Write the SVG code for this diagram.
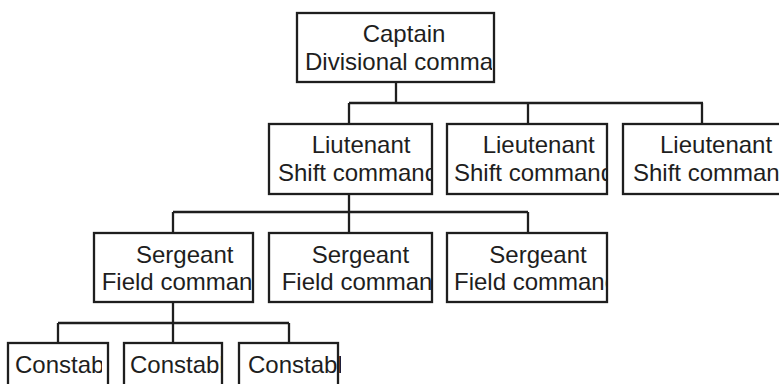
<svg xmlns="http://www.w3.org/2000/svg" width="779" height="384" viewBox="0 0 779 384">
<style>
.box{fill:#fff;stroke:#1e1e1e;stroke-width:2.3}
.t{font-family:"Liberation Sans",Arial,sans-serif;font-size:24px;fill:#1e1e1e}
.c{fill:none;stroke:#1e1e1e;stroke-width:2.3}
</style>
<defs>
<clipPath id="k0"><rect x="298" y="14" width="194" height="67"/></clipPath>
<clipPath id="k1"><rect x="270" y="125" width="161" height="68"/></clipPath>
<clipPath id="k2"><rect x="448" y="125" width="158" height="68"/></clipPath>
<clipPath id="k3"><rect x="624" y="125" width="155" height="68"/></clipPath>
<clipPath id="k4"><rect x="95" y="234" width="157" height="67"/></clipPath>
<clipPath id="k5"><rect x="270" y="234" width="161" height="67"/></clipPath>
<clipPath id="k6"><rect x="448" y="234" width="158" height="67"/></clipPath>
<clipPath id="k7"><rect x="9" y="344" width="93" height="40"/></clipPath>
<clipPath id="k8"><rect x="125" y="344" width="96" height="40"/></clipPath>
<clipPath id="k9"><rect x="240" y="344" width="101" height="40"/></clipPath>
</defs>
<g id="connectors">
<path class="c" d="M396 82V103M349 103H703M349 103V124M528 103V124M702 103V124"/>
<path class="c" d="M349 194V233M173 212H528M173 212V233M528 212V233"/>
<path class="c" d="M173 302V323M58 323H289M58 323V343M173 323V343M289 323V343"/>
</g>
<g id="captain">
<rect class="box" x="297" y="13" width="197" height="69"/>
<g clip-path="url(#k0)"><text class="t" x="362.7" y="42">Captain</text><text class="t" x="305" y="70">Divisional command</text></g>
</g>
<g id="lt1">
<rect class="box" x="269" y="124" width="163" height="70"/>
<g clip-path="url(#k1)"><text class="t" x="311.7" y="153.3">Liutenant</text><text class="t" x="278" y="180.5">Shift command</text></g>
</g>
<g id="lt2">
<rect class="box" x="447" y="124" width="160" height="70"/>
<g clip-path="url(#k2)"><text class="t" x="482.7" y="153.3">Lieutenant</text><text class="t" x="454" y="180.5">Shift command</text></g>
</g>
<g id="lt3">
<rect class="box" x="623" y="124" width="158" height="70"/>
<g clip-path="url(#k3)"><text class="t" x="660" y="153.3">Lieutenant</text><text class="t" x="633" y="180.5">Shift command</text></g>
</g>
<g id="sg1">
<rect class="box" x="94" y="233" width="159" height="69"/>
<g clip-path="url(#k4)"><text class="t" x="136" y="262.5">Sergeant</text><text class="t" x="101.7" y="290">Field command</text></g>
</g>
<g id="sg2">
<rect class="box" x="269" y="233" width="163" height="69"/>
<g clip-path="url(#k5)"><text class="t" x="311.7" y="262.5">Sergeant</text><text class="t" x="281.7" y="290">Field command</text></g>
</g>
<g id="sg3">
<rect class="box" x="447" y="233" width="160" height="69"/>
<g clip-path="url(#k6)"><text class="t" x="489.3" y="262.5">Sergeant</text><text class="t" x="454" y="290">Field command</text></g>
</g>
<g id="cn1">
<rect class="box" x="8" y="343" width="100" height="60"/>
<g clip-path="url(#k7)"><text class="t" x="15" y="372.5">Constable</text></g>
</g>
<g id="cn2">
<rect class="box" x="124" y="343" width="98" height="60"/>
<g clip-path="url(#k8)"><text class="t" x="130" y="372.5">Constable</text></g>
</g>
<g id="cn3">
<rect class="box" x="239" y="343" width="99" height="60"/>
<g clip-path="url(#k9)"><text class="t" x="248" y="372.5">Constable</text></g>
</g>
</svg>
